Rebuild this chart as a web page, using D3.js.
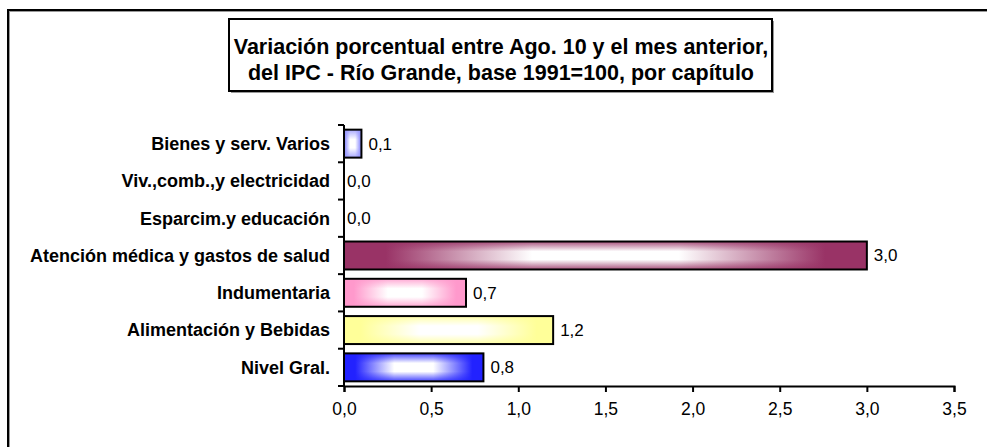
<!DOCTYPE html>
<html>
<head>
<meta charset="utf-8">
<script src="https://cdn.jsdelivr.net/npm/d3@7"></script>
<style>
  body { margin: 0; background: #fff; }
  svg { display: block; font-family: "Liberation Sans", Arial, sans-serif; }
</style>
</head>
<body>
<div id="chart"></div>
<script>
// Datos: de arriba hacia abajo como en el gráfico
const capitulos = [
  "Bienes y serv. Varios",
  "Viv.,comb.,y electricidad",
  "Esparcim.y educación",
  "Atención médica y gastos de salud",
  "Indumentaria",
  "Alimentación y Bebidas",
  "Nivel Gral."
];
const variacion = [0.1, 0.0, 0.0, 3.0, 0.7, 1.2, 0.8];
const colores = ["#9999ff", "#ffffff", "#ffffff", "#993366", "#ff99cc", "#ffff99", "#2222ff"];
const xTicks = [0, 0.5, 1, 1.5, 2, 2.5, 3, 3.5];
const titulo = [
  "Variación porcentual entre Ago. 10 y el mes anterior,",
  "del IPC - Río Grande, base 1991=100, por capítulo"
];

const datos = capitulos.map((c, i) => ({ id: i, nombre: c, valor: variacion[i], color: colores[i] }));

const width = 987, height = 447;
const margin = { top: 125, right: 33, bottom: 61, left: 344 };

const es = d3.formatLocale({ decimal: ",", thousands: ".", grouping: [3], currency: ["$", ""] });
const fmt = es.format(".1f");

const svg = d3.select("#chart").append("svg")
  .attr("width", width)
  .attr("height", height);

// Marco exterior (se corta a la derecha y abajo)
svg.append("rect")
  .attr("x", 9).attr("y", 11)
  .attr("width", width + 20).attr("height", height + 20)
  .attr("fill", "none").attr("stroke", "#999").attr("stroke-width", 2);
svg.append("rect")
  .attr("x", 8).attr("y", 10)
  .attr("width", width + 20).attr("height", height + 20)
  .attr("fill", "none").attr("stroke", "#000").attr("stroke-width", 2);

// Gradientes (relleno "desde el centro")
const defs = svg.append("defs");
datos.forEach(d => {
  const c = d.color;
  const gh = defs.append("linearGradient").attr("id", "gh" + d.id)
    .attr("x1", 0).attr("x2", 1).attr("y1", 0).attr("y2", 0);
  gh.append("stop").attr("offset", "0%").attr("stop-color", c);
  gh.append("stop").attr("offset", "8%").attr("stop-color", c);
  gh.append("stop").attr("offset", "36%").attr("stop-color", "#fff");
  gh.append("stop").attr("offset", "64%").attr("stop-color", "#fff");
  gh.append("stop").attr("offset", "92%").attr("stop-color", c);
  gh.append("stop").attr("offset", "100%").attr("stop-color", c);
  const gv = defs.append("linearGradient").attr("id", "gv" + d.id)
    .attr("x1", 0).attr("x2", 0).attr("y1", 0).attr("y2", 1);
  gv.append("stop").attr("offset", "0%").attr("stop-color", c).attr("stop-opacity", 0.85);
  gv.append("stop").attr("offset", "35%").attr("stop-color", c).attr("stop-opacity", 0);
  gv.append("stop").attr("offset", "65%").attr("stop-color", c).attr("stop-opacity", 0);
  gv.append("stop").attr("offset", "100%").attr("stop-color", c).attr("stop-opacity", 0.85);
});

// Escalas
const x = d3.scaleLinear().domain([0, 3.5]).range([margin.left, width - margin.right]);
const y = d3.scaleBand().domain(capitulos)
  .range([margin.top, height - margin.bottom])
  .paddingInner(0.25).paddingOuter(0.125);

const plotBottom = height - margin.bottom;

// Barras
const conValor = datos.filter(d => d.valor > 0);
const barras = svg.append("g");
barras.selectAll("rect.fondo").data(conValor).join("rect")
  .attr("class", "fondo")
  .attr("x", x(0))
  .attr("y", d => y(d.nombre))
  .attr("width", d => x(d.valor) - x(0))
  .attr("height", y.bandwidth())
  .attr("fill", d => `url(#gh${d.id})`);
barras.selectAll("rect.borde").data(conValor).join("rect")
  .attr("class", "borde")
  .attr("x", x(0))
  .attr("y", d => y(d.nombre))
  .attr("width", d => x(d.valor) - x(0))
  .attr("height", y.bandwidth())
  .attr("fill", d => `url(#gv${d.id})`)
  .attr("stroke", "#000")
  .attr("stroke-width", 2);

// Etiquetas de valores
barras.selectAll("text").data(datos).join("text")
  .attr("x", d => x(d.valor) + (d.valor > 0 ? 7 : 3))
  .attr("y", d => y(d.nombre) + y.bandwidth() / 2)
  .attr("dy", "0.35em")
  .attr("font-size", 17)
  .text(d => fmt(d.valor));

// Eje Y
const yAxis = svg.append("g");
yAxis.append("line")
  .attr("x1", x(0)).attr("x2", x(0))
  .attr("y1", margin.top).attr("y2", plotBottom)
  .attr("stroke", "#000").attr("stroke-width", 2);
const bounds = d3.range(capitulos.length + 1).map(i => margin.top + i * y.step());
yAxis.selectAll("line.tick").data(bounds).join("line")
  .attr("class", "tick")
  .attr("x1", x(0) - 6).attr("x2", x(0))
  .attr("y1", d => d).attr("y2", d => d)
  .attr("stroke", "#000").attr("stroke-width", 2);
yAxis.selectAll("text").data(capitulos).join("text")
  .attr("x", x(0) - 14)
  .attr("y", d => y(d) + y.bandwidth() / 2)
  .attr("dy", "0.35em")
  .attr("text-anchor", "end")
  .attr("font-size", 18)
  .attr("font-weight", "bold")
  .text(d => d);

// Eje X
const xAxis = svg.append("g")
  .attr("transform", `translate(0,${plotBottom})`)
  .call(d3.axisBottom(x).tickValues(xTicks).tickFormat(fmt).tickSizeOuter(0).tickSize(6).tickPadding(11));
xAxis.select(".domain").attr("stroke-width", 2);
xAxis.selectAll(".tick line").attr("stroke-width", 2);
xAxis.selectAll(".tick text")
  .attr("font-size", 17.5)
  .attr("font-family", "'Liberation Sans', Arial, sans-serif")
  .attr("fill", "#000");

// Título
svg.append("rect")
  .attr("x", 231).attr("y", 21).attr("width", 543).attr("height", 72)
  .attr("fill", "#999");
svg.append("rect")
  .attr("x", 229).attr("y", 19).attr("width", 543).attr("height", 72)
  .attr("fill", "#fff").attr("stroke", "#000").attr("stroke-width", 2);
svg.append("g").selectAll("text").data(titulo).join("text")
  .attr("x", 501)
  .attr("y", (d, i) => 54 + i * 26)
  .attr("text-anchor", "middle")
  .attr("font-size", 21.5)
  .attr("font-weight", "bold")
  .text(d => d);
</script>
</body>
</html>
